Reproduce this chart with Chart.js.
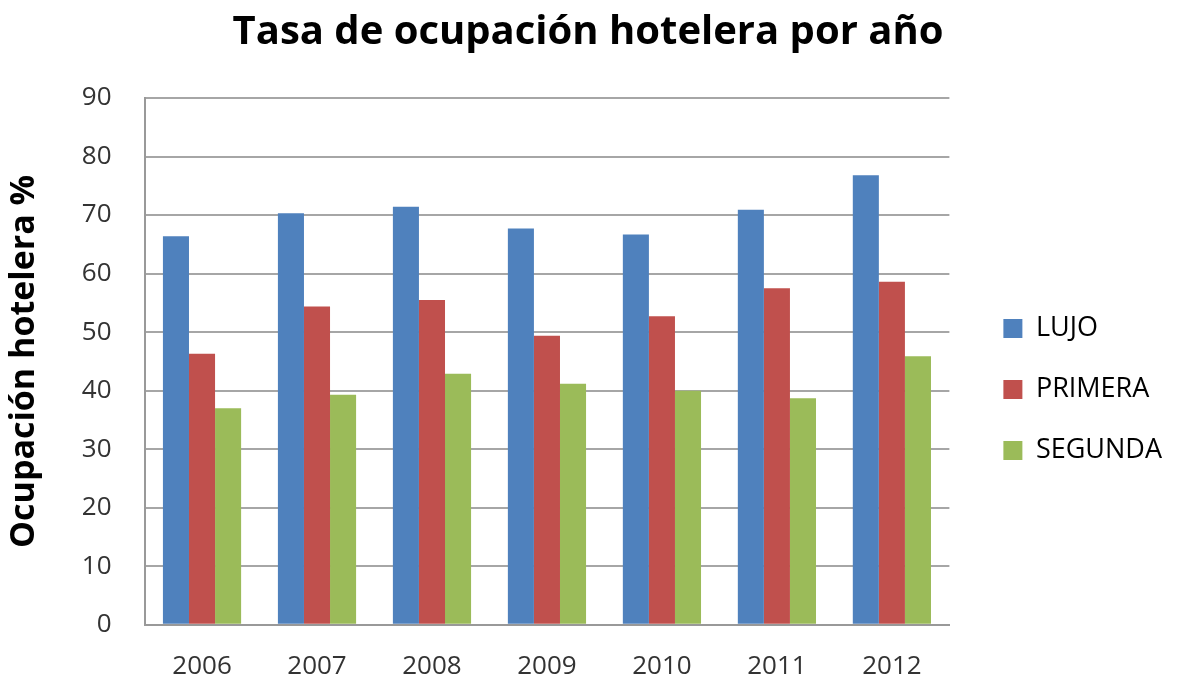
<!DOCTYPE html>
<html><head><meta charset="utf-8">
<script src="https://cdn.jsdelivr.net/npm/chart.js@4"></script>
<style>html,body{margin:0;padding:0;background:#fff}canvas{display:block}</style>
</head><body>
<canvas id="c" width="1181" height="683"></canvas>
<script>
const categories = ["2006","2007","2008","2009","2010","2011","2012"];
const lujo     = [66.4, 70.3, 71.4, 67.7, 66.7, 70.9, 76.8];
const primera  = [46.3, 54.4, 55.5, 49.4, 52.7, 57.5, 58.6];
const segunda  = [37.0, 39.3, 42.9, 41.2, 40.0, 38.7, 45.9];
const seriesNames = ["LUJO","PRIMERA","SEGUNDA"];
const titleText = "Tasa de ocupación hotelera por año";
const yTitle = "Ocupación hotelera %";
const FONT = "'Open Sans', Lato, sans-serif";

// shift the legend and title blocks to match the reference placement
const blockShift = {
  id: 'blockShift',
  afterLayout(chart) {
    const lg = chart.legend;
    if (lg) {
      const dx = 20, dy = 31;
      lg.left += dx; lg.right += dx; lg.top += dy; lg.bottom += dy;
    }
    const tb = chart.titleBlock;
    if (tb) { tb.left += 12; tb.right += 12; }
  }
};

new Chart(document.getElementById('c'), {
  type: 'bar',
  data: {
    labels: categories,
    datasets: [
      {label: seriesNames[0], data: lujo, backgroundColor: '#4F81BD'},
      {label: seriesNames[1], data: primera, backgroundColor: '#C0504D'},
      {label: seriesNames[2], data: segunda, backgroundColor: '#9BBB59'}
    ]
  },
  plugins: [blockShift],
  options: {
    responsive: false,
    animation: false,
    datasets: {bar: {categoryPercentage: 0.68, barPercentage: 1.0}},
    layout: {padding: {left: 0, right: 29, top: 9, bottom: -25}},
    plugins: {
      title: {display: true, text: titleText, color: '#000',
        font: {family: FONT, size: 40, weight: 'bold'}, padding: {top: 0, bottom: 41}},
      legend: {position: 'right', align: 'center',
        labels: {color: '#000', font: {family: FONT, size: 27}, boxWidth: 19, boxHeight: 19, padding: 34}},
      tooltip: {enabled: false}
    },
    scales: {
      x: {
        grid: {display: false, drawTicks: false},
        border: {display: true, color: '#999', width: 2},
        ticks: {color: '#333', font: {family: FONT, size: 26}, padding: 26}
      },
      y: {
        min: 0, max: 90,
        ticks: {stepSize: 10, color: '#333', font: {family: FONT, size: 26}, padding: 33},
        grid: {color: '#a6a6a6', lineWidth: 2, drawTicks: false},
        border: {display: true, color: '#999', width: 2},
        title: {display: true, text: yTitle, color: '#000', font: {family: FONT, size: 34, weight: 'bold'}, padding: {top: 4, bottom: 4}}
      }
    }
  }
});
</script>
</body></html>
